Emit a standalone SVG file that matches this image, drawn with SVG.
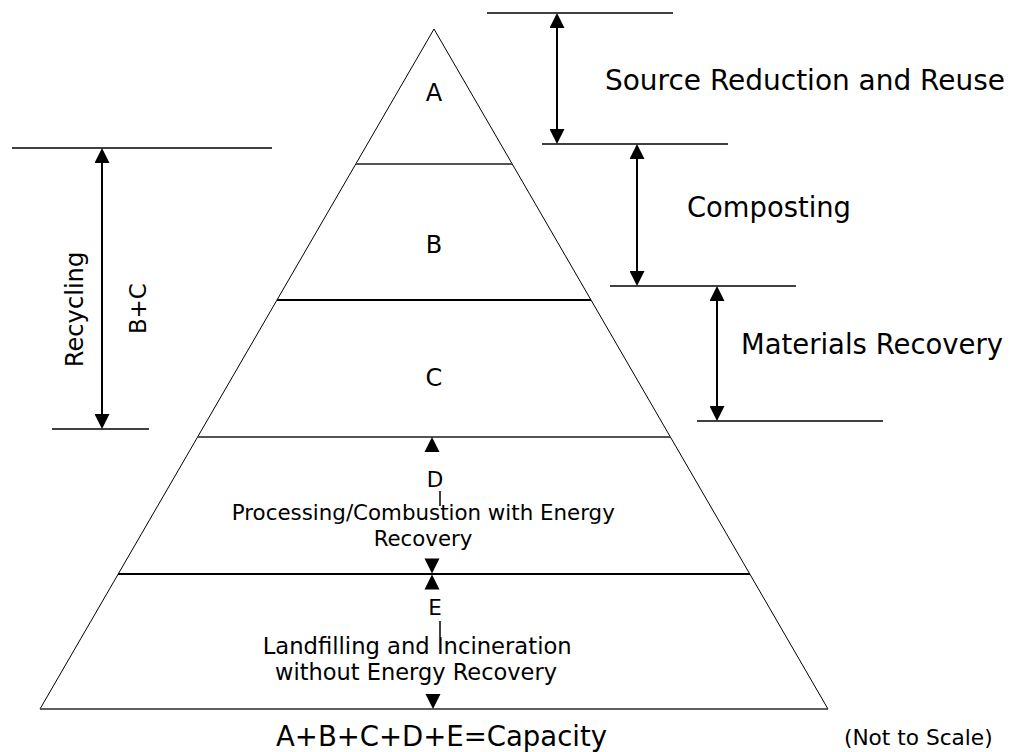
<svg xmlns="http://www.w3.org/2000/svg" width="1013" height="752" viewBox="0 0 1013 752">
<style>
 text{font-family:"DejaVu Sans",Verdana,sans-serif;fill:#000}
 .big{font-size:27.6px}
 .lbl{font-size:24px}
 .mid{font-size:21.5px}
 .edge{fill:none;stroke:#000;stroke-width:1}
 .div{stroke:#000;stroke-width:2}
 .divg{stroke:#555;stroke-width:2}
 .base{stroke:#555;stroke-width:1.5}
 .rule{stroke:#000;stroke-width:1.5}
 .tick{stroke:#000;stroke-width:1.5}
 .arr{stroke:#000;stroke-width:2;marker-start:url(#ah);marker-end:url(#ah)}
</style>
<defs>
 <marker id="ah" markerUnits="userSpaceOnUse" markerWidth="15" markerHeight="15" refX="0" refY="7.5" orient="auto-start-reverse" viewBox="0 0 15 15"><path d="M0,0 L15,7.5 L0,15 z" fill="#000"/></marker>
 <path id="hu" d="M-7.5,15 L0,0 L7.5,15 z" fill="#000"/>
 <path id="hd" d="M-7.5,-15 L0,0 L7.5,-15 z" fill="#000"/>
</defs>
<rect width="1013" height="752" fill="#fff"/>

<g id="pyramid">
 <polygon class="edge" points="434,29 40,709 828,709"/>
 <line class="base" x1="40" y1="709" x2="828" y2="709"/>
</g>

<g id="layer-A">
 <text class="lbl" x="434" y="101" text-anchor="middle">A</text>
</g>
<g id="layer-B">
 <line class="divg" x1="356" y1="164" x2="512" y2="164"/>
 <text class="lbl" x="434" y="252.5" text-anchor="middle">B</text>
</g>
<g id="layer-C">
 <line class="div" x1="277" y1="300" x2="591" y2="300"/>
 <text class="lbl" x="434" y="386" text-anchor="middle">C</text>
</g>
<g id="layer-D">
 <line class="divg" x1="198" y1="437" x2="670" y2="437"/>
 <text class="mid" x="435" y="487" text-anchor="middle">D</text>
 <text style="font-size:21.3px" x="423.3" y="520" text-anchor="middle" textLength="383" lengthAdjust="spacingAndGlyphs">Processing/Combustion with Energy</text>
 <text style="font-size:21.3px" x="423" y="546" text-anchor="middle">Recovery</text>
</g>
<g id="layer-E">
 <line class="div" x1="118" y1="574" x2="750" y2="574"/>
 <text class="mid" x="435" y="615" text-anchor="middle">E</text>
 <text style="font-size:22.5px" x="417.2" y="654" text-anchor="middle" textLength="309" lengthAdjust="spacingAndGlyphs">Landfilling and Incineration</text>
 <text style="font-size:22.4px" x="416" y="680" text-anchor="middle" textLength="282" lengthAdjust="spacingAndGlyphs">without Energy Recovery</text>
</g>

<g id="source-reduction">
 <line class="rule" x1="487" y1="13" x2="673" y2="13"/>
 <text class="big" x="605" y="89.5" textLength="400" lengthAdjust="spacingAndGlyphs">Source Reduction and Reuse</text>
</g>
<g id="composting">
 <line class="rule" x1="542" y1="144" x2="728" y2="144"/>
 <text class="big" x="687" y="217" textLength="164" lengthAdjust="spacingAndGlyphs">Composting</text>
</g>
<g id="materials-recovery">
 <line class="rule" x1="610" y1="286" x2="796" y2="286"/>
 <line class="rule" x1="697" y1="421" x2="883" y2="421"/>
 <text class="big" x="741" y="353.5" textLength="262" lengthAdjust="spacingAndGlyphs">Materials Recovery</text>
</g>
<g id="recycling">
 <line class="rule" x1="12" y1="148" x2="272" y2="148"/>
 <line class="rule" x1="52" y1="429" x2="149" y2="429"/>
 <text class="lbl" transform="translate(83,309.5) rotate(-90)" text-anchor="middle" textLength="115.6" lengthAdjust="spacingAndGlyphs">Recycling</text>
 <text style="font-size:23px" transform="translate(146,308.7) rotate(-90)" text-anchor="middle" textLength="50.7" lengthAdjust="spacingAndGlyphs">B+C</text>
</g>
<g id="footer">
 <text style="font-size:27.5px" x="441.5" y="745.5" text-anchor="middle" textLength="331" lengthAdjust="spacingAndGlyphs">A+B+C+D+E=Capacity</text>
 <text style="font-size:21.6px" x="918.3" y="745" text-anchor="middle" textLength="148.7" lengthAdjust="spacingAndGlyphs">(Not to Scale)</text>
</g>

<g id="connectors">
 <line class="arr" x1="557" y1="28" x2="557" y2="129"/>
 <line class="arr" x1="637" y1="159" x2="637" y2="271"/>
 <line class="arr" x1="717" y1="301" x2="717" y2="406"/>
 <line class="arr" x1="102" y1="163" x2="102" y2="414"/>
 <use href="#hu" x="432" y="437"/>
 <use href="#hd" x="432" y="573.5"/>
 <line class="tick" x1="440" y1="491" x2="440" y2="506"/>
 <use href="#hu" x="432" y="574.5"/>
 <use href="#hd" x="433" y="709"/>
 <line class="tick" x1="440" y1="621" x2="440" y2="637"/>
</g>
</svg>
